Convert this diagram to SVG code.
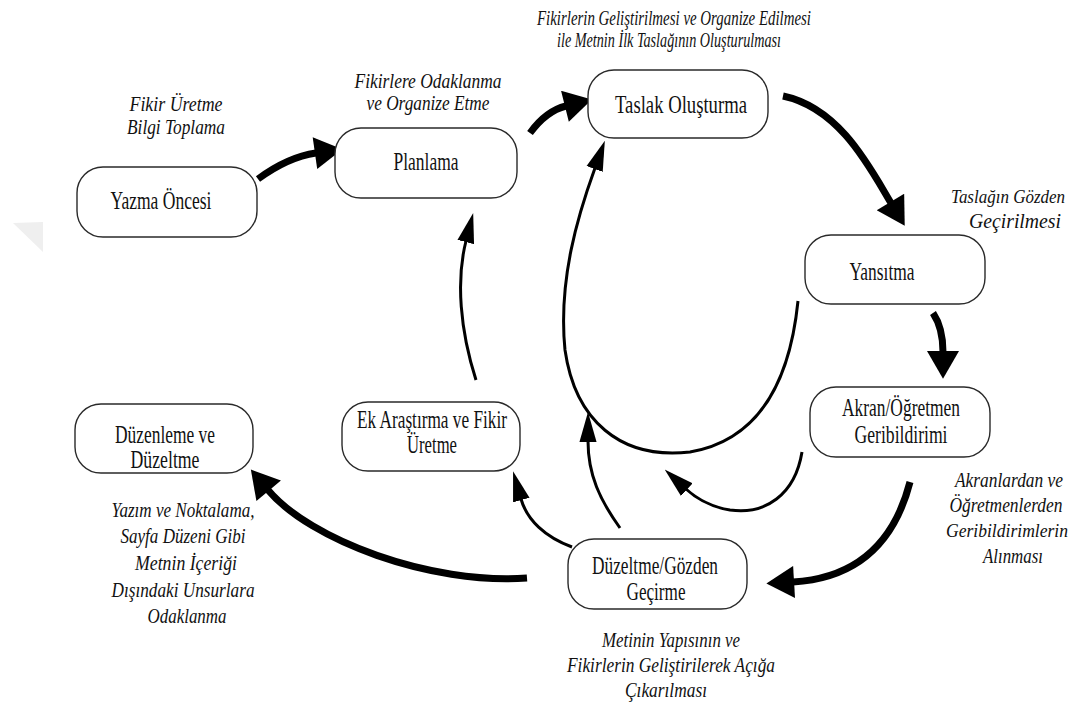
<svg xmlns="http://www.w3.org/2000/svg" width="1080" height="709" viewBox="0 0 1080 709">
<style>
.box{fill:#fff;stroke:#2a2a2a;stroke-width:1.4}
.nt{font-family:"Liberation Serif","Times New Roman",serif;font-size:25px;fill:#111;text-anchor:middle}
.lb{font-family:"Liberation Serif","Times New Roman",serif;font-style:italic;font-size:22px;fill:#111;text-anchor:middle}
.lb2{font-size:20px}
.lb3{font-size:18px}
.thick{fill:none;stroke:#000;stroke-width:7}
.thin{fill:none;stroke:#000;stroke-width:3}
</style>
<defs>
<marker id="ah" markerUnits="userSpaceOnUse" markerWidth="30" markerHeight="32" viewBox="0 0 26 30" refX="1" refY="15" orient="auto">
<path d="M0,0 L26,15 L0,30 z" fill="#000"/>
</marker>
<marker id="at" markerUnits="userSpaceOnUse" markerWidth="30" markerHeight="18" viewBox="0 0 28 16" refX="1" refY="8" orient="auto">
<path d="M0,0 L28,8 L0,16 z" fill="#000"/>
</marker>
</defs>
<rect width="1080" height="709" fill="#fff"/>
<polygon points="13,223 43,222 43,252" fill="#efefef"/>

<g id="connectors">
<path class="thick" marker-end="url(#ah)" d="M258,179 Q288,157 316,153"/>
<path class="thick" marker-end="url(#ah)" d="M530,133 Q546,111 566,106"/>
<path class="thick" marker-end="url(#ah)" d="M783,96 C840,108 870,168 891,203"/>
<path class="thick" marker-end="url(#ah)" d="M933,313 Q943,328 943,352"/>
<path class="thick" marker-end="url(#ah)" d="M910,482 C895,540 860,578 793,582"/>
<path class="thick" marker-end="url(#ah)" d="M527,578 C430,585 310,540 268,490"/>
<path class="thin" marker-end="url(#at)" d="M572,547 C545,537 527,520 521,499"/>
<path class="thin" marker-end="url(#at)" d="M620,528 C600,500 588,475 588,441"/>
<path class="thin" marker-end="url(#at)" d="M802,452 C795,495 765,515 730,510 C712,507 698,500 686,489"/>
<path class="thin" marker-end="url(#at)" d="M798,301 C790,380 760,440 690,452 C620,460 575,420 565,350 C558,280 578,215 595,168"/>
<path class="thin" marker-end="url(#at)" d="M476,380 C460,330 456,280 466,241"/>
</g>

<g id="n1"><rect class="box" x="77" y="167" width="180" height="70" rx="26"/>
<text class="nt" x="161" y="209" textLength="101" lengthAdjust="spacingAndGlyphs">Yazma Öncesi</text></g>
<g id="n2"><rect class="box" x="335" y="128" width="182" height="70" rx="26"/>
<text class="nt" x="426" y="170" textLength="65" lengthAdjust="spacingAndGlyphs">Planlama</text></g>
<g id="n3"><rect class="box" x="588" y="70" width="180" height="68" rx="26"/>
<text class="nt" x="681" y="113" textLength="132" lengthAdjust="spacingAndGlyphs">Taslak Oluşturma</text></g>
<g id="n4"><rect class="box" x="805" y="235" width="180" height="69" rx="26"/>
<text class="nt" x="882" y="280" textLength="65" lengthAdjust="spacingAndGlyphs">Yansıtma</text></g>
<g id="n5"><rect class="box" x="810" y="387" width="180" height="70" rx="26"/>
<text class="nt" x="901" y="416" textLength="118" lengthAdjust="spacingAndGlyphs">Akran/Öğretmen</text>
<text class="nt" x="901" y="443" textLength="93" lengthAdjust="spacingAndGlyphs">Geribildirimi</text></g>
<g id="n6"><rect class="box" x="568" y="539" width="179" height="70" rx="26"/>
<text class="nt" x="655" y="574" textLength="126" lengthAdjust="spacingAndGlyphs">Düzeltme/Gözden</text>
<text class="nt" x="656" y="600" textLength="59" lengthAdjust="spacingAndGlyphs">Geçirme</text></g>
<g id="n7"><rect class="box" x="75" y="404" width="178" height="69" rx="26"/>
<text class="nt" x="165" y="443" textLength="100" lengthAdjust="spacingAndGlyphs">Düzenleme ve</text>
<text class="nt" x="165" y="468" textLength="69" lengthAdjust="spacingAndGlyphs">Düzeltme</text></g>
<g id="n8"><rect class="box" x="342" y="402" width="178" height="69" rx="26"/>
<text class="nt" x="432" y="428" textLength="150" lengthAdjust="spacingAndGlyphs">Ek Araştırma ve Fikir</text>
<text class="nt" x="432" y="453" textLength="50" lengthAdjust="spacingAndGlyphs">Üretme</text></g>

<g id="labels">
<text class="lb" x="176" y="111" textLength="93" lengthAdjust="spacingAndGlyphs">Fikir Üretme</text>
<text class="lb" x="176" y="134" textLength="98" lengthAdjust="spacingAndGlyphs">Bilgi Toplama</text>
<text class="lb lb2" x="428" y="88" textLength="147" lengthAdjust="spacingAndGlyphs">Fikirlere Odaklanma</text>
<text class="lb lb2" x="428" y="110" textLength="123" lengthAdjust="spacingAndGlyphs">ve Organize Etme</text>
<text class="lb lb2" x="674" y="25" textLength="274" lengthAdjust="spacingAndGlyphs">Fikirlerin Geliştirilmesi ve Organize Edilmesi</text>
<text class="lb lb2" x="669" y="47" textLength="224" lengthAdjust="spacingAndGlyphs">ile Metnin İlk Taslağının Oluşturulması</text>
<text class="lb lb3" x="1008" y="203" textLength="114" lengthAdjust="spacingAndGlyphs">Taslağın Gözden</text>
<text class="lb" x="1015" y="228" textLength="92" lengthAdjust="spacingAndGlyphs">Geçirilmesi</text>
<text class="lb lb2" x="1009" y="487" textLength="108" lengthAdjust="spacingAndGlyphs">Akranlardan ve</text>
<text class="lb lb2" x="1006" y="512" textLength="113" lengthAdjust="spacingAndGlyphs">Öğretmenlerden</text>
<text class="lb lb3" x="1007" y="537" textLength="122" lengthAdjust="spacingAndGlyphs">Geribildirimlerin</text>
<text class="lb" x="1013" y="563" textLength="60" lengthAdjust="spacingAndGlyphs">Alınması</text>
<text class="lb" x="671" y="647" textLength="138" lengthAdjust="spacingAndGlyphs">Metinin Yapısının ve</text>
<text class="lb" x="671" y="672" textLength="208" lengthAdjust="spacingAndGlyphs">Fikirlerin Geliştirilerek Açığa</text>
<text class="lb" x="666" y="697" textLength="82" lengthAdjust="spacingAndGlyphs">Çıkarılması</text>
<text class="lb" x="183" y="517" textLength="143" lengthAdjust="spacingAndGlyphs">Yazım ve Noktalama,</text>
<text class="lb" x="183" y="543" textLength="125" lengthAdjust="spacingAndGlyphs">Sayfa Düzeni Gibi</text>
<text class="lb" x="186" y="570" textLength="102" lengthAdjust="spacingAndGlyphs">Metnin İçeriği</text>
<text class="lb" x="183" y="597" textLength="143" lengthAdjust="spacingAndGlyphs">Dışındaki Unsurlara</text>
<text class="lb" x="187" y="623" textLength="79" lengthAdjust="spacingAndGlyphs">Odaklanma</text>
</g>
</svg>
